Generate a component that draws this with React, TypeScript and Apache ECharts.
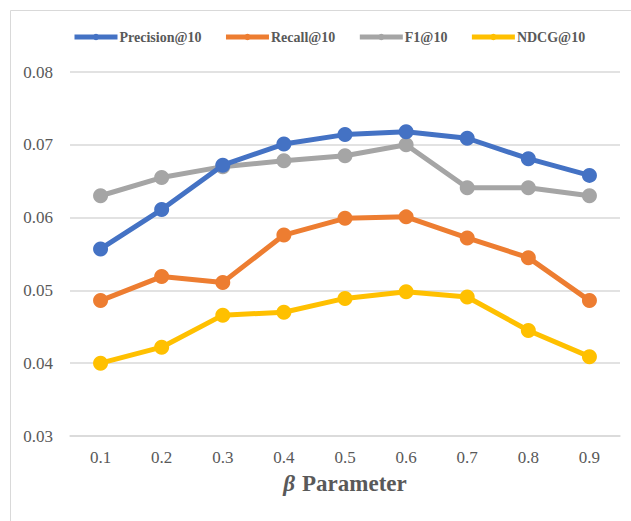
import React, { useEffect, useRef } from "react";
import * as echarts from "echarts";

const categories = ["0.1", "0.2", "0.3", "0.4", "0.5", "0.6", "0.7", "0.8", "0.9"];
const precision = [0.0557, 0.0611, 0.0672, 0.0701, 0.0714, 0.0718, 0.0709, 0.0681, 0.0658];
const recall = [0.0486, 0.0519, 0.0511, 0.0576, 0.0599, 0.0601, 0.0572, 0.0545, 0.0486];
const f1 = [0.063, 0.0655, 0.067, 0.0678, 0.0685, 0.07, 0.0641, 0.0641, 0.063];
const ndcg = [0.04, 0.0422, 0.0466, 0.047, 0.0489, 0.0498, 0.0491, 0.0445, 0.0409];

const seriesNames = ["Precision@10", "Recall@10", "F1@10", "NDCG@10"];
const seriesColors = ["#4472C4", "#ED7D31", "#A5A5A5", "#FFC000"];
const seriesData = [precision, recall, f1, ndcg];

const FONT = "Liberation Serif, Times New Roman, serif";

export default function App() {
  const ref = useRef<HTMLDivElement>(null);
  useEffect(() => {
    if (!ref.current) return;
    const chart = echarts.init(ref.current, null, { renderer: "svg" });
    chart.setOption({
      animation: false,
      backgroundColor: "#ffffff",
      textStyle: { fontFamily: FONT },
      graphic: [
        {
          type: "rect",
          shape: { x: 10.5, y: 10.5, width: 700, height: 600 },
          style: { fill: "none", stroke: "#D9D9D9", lineWidth: 1 },
          silent: true,
          z: 0,
        },
      ],
      legend: {
        top: 25,
        left: 67,
        itemWidth: 43,
        itemHeight: 8,
        itemGap: 22,
        textStyle: { fontFamily: FONT, fontSize: 14, fontWeight: "bold", color: "#595959", padding: [0, 0, 0, -3] },
        data: seriesNames.map((name, i) => ({
          name,
          lineStyle: { width: 5, color: seriesColors[i] },
          itemStyle: { color: seriesColors[i] },
        })),
      },
      grid: { left: 70, right: 11, top: 72, bottom: 85, containLabel: false },
      xAxis: {
        type: "category",
        data: categories,
        boundaryGap: true,
        axisLine: { show: true, lineStyle: { color: "#D9D9D9", width: 1.5 } },
        axisTick: { show: false },
        axisLabel: { fontFamily: FONT, fontSize: 17, color: "#595959", margin: 13 },
        name: "{b|β} {n|Parameter}",
        nameLocation: "middle",
        nameGap: 36,
        nameTextStyle: {
          rich: {
            b: { fontFamily: FONT, fontSize: 23, fontWeight: "bold", fontStyle: "italic", color: "#595959", padding: [0, 4, 0, 0] },
            n: { fontFamily: FONT, fontSize: 23, fontWeight: "bold", color: "#595959" },
          },
        },
      },
      yAxis: {
        type: "value",
        min: 0.03,
        max: 0.08,
        interval: 0.01,
        axisLine: { show: false },
        axisTick: { show: false },
        splitLine: { lineStyle: { color: "#D9D9D9", width: 1.5 } },
        axisLabel: {
          fontFamily: FONT,
          fontSize: 17,
          color: "#595959",
          margin: 17,
          formatter: (v: number) => v.toFixed(2),
        },
      },
      series: seriesNames.map((name, i) => ({
        name,
        type: "line",
        data: seriesData[i],
        symbol: "circle",
        symbolSize: 15,
        lineStyle: { width: 5, color: seriesColors[i] },
        itemStyle: { color: seriesColors[i] },
        z: 10 - i,
      })),
    });
    return () => chart.dispose();
  }, []);
  return (
    <div
      ref={ref}
      style={{ position: "absolute", left: 0, top: 0, width: 631, height: 521 }}
    />
  );
}
